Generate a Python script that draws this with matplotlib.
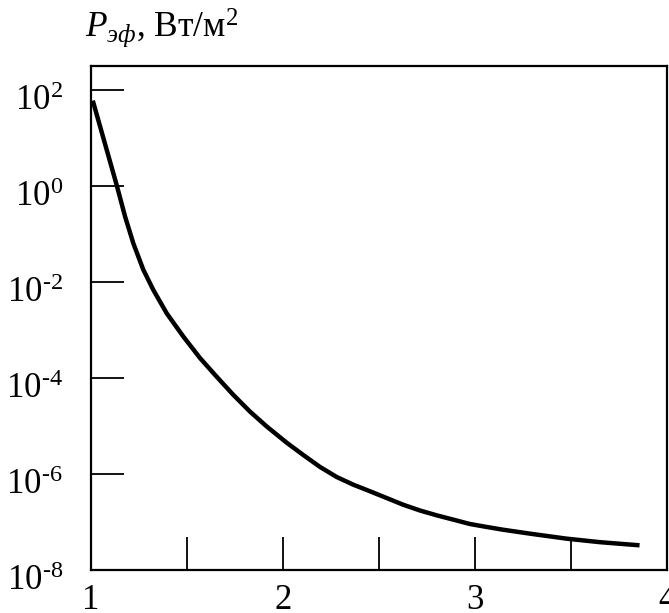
import matplotlib
matplotlib.use("Agg")
import matplotlib.pyplot as plt
import matplotlib.transforms as mtransforms
import matplotlib.ticker as mticker

plt.rcParams['font.family'] = ['Liberation Serif', 'DejaVu Serif']
plt.rcParams['mathtext.fontset'] = 'custom'
plt.rcParams['mathtext.rm'] = 'Liberation Serif'
plt.rcParams['mathtext.it'] = 'Liberation Serif:italic'
plt.rcParams['mathtext.bf'] = 'Liberation Serif:bold'

# data
x_vals = [1.014, 1.135, 1.179, 1.222, 1.274, 1.326, 1.396, 1.482, 1.569,
          1.656, 1.743, 1.83, 1.917, 2.021, 2.107, 2.194, 2.281, 2.368, 2.455,
          2.542, 2.628, 2.715, 2.802, 2.889, 2.975, 3.062, 3.149, 3.253, 3.305,
          3.479, 3.653, 3.847]
p_vals = [55, 1.07, 0.234, 6.46e-2, 1.82e-2, 6.9e-3, 2.24e-3, 7.4e-4, 2.63e-4,
          1.07e-4, 4.47e-5, 2.0e-5, 9.8e-6, 4.5e-6, 2.5e-6, 1.41e-6, 8.7e-7, 6.0e-7,
          4.37e-7, 3.16e-7, 2.29e-7, 1.74e-7, 1.38e-7, 1.12e-7, 9.1e-8, 7.9e-8,
          6.9e-8, 6.0e-8, 5.6e-8, 4.5e-8, 3.8e-8, 3.3e-8]

x_major = [1, 2, 3, 4]
x_major_labels = ['1', '2', '3', '4']
x_minor = [1.5, 2.5, 3.5]
y_ticks = [1e2, 1e0, 1e-2, 1e-4, 1e-6, 1e-8]
y_tick_labels = [r'$\mathregular{10^{2}}$', r'$\mathregular{10^{0}}$',
                 '$\\mathregular{10^{\u20102}}$', '$\\mathregular{10^{\u20104}}$',
                 '$\\mathregular{10^{\u20106}}$', '$\\mathregular{10^{\u20108}}$']
title_text = r'$P_{эф}$, Вт/м$^{2}$'

fig = plt.figure(figsize=(6.69, 6.13), dpi=100)
ax = fig.add_axes([90.7 / 669, 1 - 570 / 613, (666.7 - 90.7) / 669, (570 - 66) / 613])

ax.plot(x_vals, p_vals, color='black', lw=3.2, solid_joinstyle='round')

ax.set_yscale('log')
ax.set_xlim(1, 4)
ax.set_ylim(1e-8, 10 ** 2.507)

ax.set_xticks(x_major)
ax.set_xticklabels(x_major_labels, fontsize=25)
ax.set_xticks(x_minor, minor=True)
ax.set_yticks(y_ticks)
ax.set_yticklabels(y_tick_labels, fontsize=25)
ax.yaxis.set_minor_locator(mticker.NullLocator())

ax.tick_params(axis='both', which='both', direction='in', length=24, width=1.3,
               color='black', top=False, right=False)
ax.tick_params(axis='x', which='major', pad=10)
ax.tick_params(axis='y', which='major', pad=20)

for lab in ax.get_yticklabels():
    lab.set_transform(lab.get_transform() +
                      mtransforms.ScaledTranslation(0, -7 / 100, fig.dpi_scale_trans))

for s in ax.spines.values():
    s.set_linewidth(1.6)
    s.set_color('black')

fig.text(85 / 669, 1 - 37 / 613, title_text, fontsize=25.5, ha='left', va='baseline')

fig.savefig('out.png', dpi=100)
